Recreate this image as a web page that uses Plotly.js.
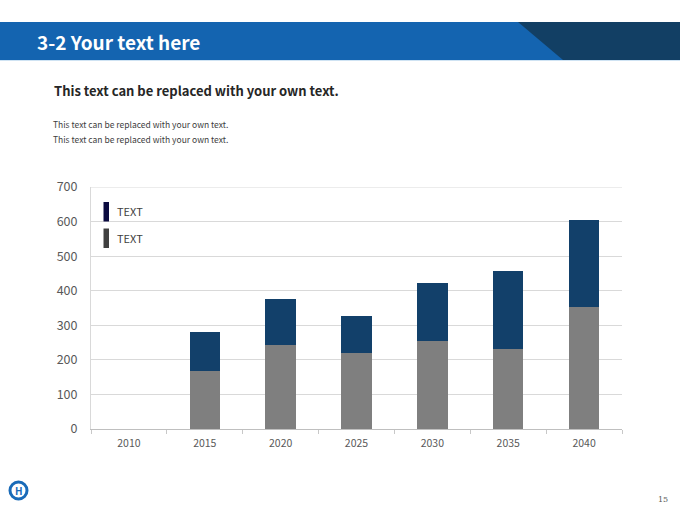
<!DOCTYPE html>
<html>
<head>
<meta charset="utf-8">
<script src="https://cdn.plot.ly/plotly-3.0.1.min.js"></script>
<style>html,body{margin:0;padding:0;background:#fff;}#chart{width:680px;height:510px;}</style>
</head>
<body>
<div id="chart"></div>
<script>
const years = ['2010','2015','2020','2025','2030','2035','2040'];
const lowerValues = [null,168,244,219,254,232,354];
const upperValues = [null,112,131,109,169,224,251];
const legendLabels = ['TEXT','TEXT'];
const yTicks = [0,100,200,300,400,500,600,700];

const W = 680, H = 510;
const px = x => x / W;
const py = y => 1 - y / H;
const FONT = '"Noto Sans CJK KR", "Noto Sans", sans-serif';

const traces = [
  {type:'bar', x:years, y:lowerValues, marker:{color:'#7f7f7f'}, showlegend:false, hoverinfo:'y'},
  {type:'bar', x:years, y:upperValues, marker:{color:'#12406a'}, showlegend:false, hoverinfo:'y'}
];

const shapes = [
  // header band
  {type:'rect', xref:'paper', yref:'paper', x0:0, x1:1, y0:py(60), y1:py(22), fillcolor:'#1464b0', line:{width:0}, layer:'below'},
  {type:'path', xref:'paper', yref:'paper',
   path:`M ${px(518)},${py(22)} L 1,${py(22)} L 1,${py(60)} L ${px(563)},${py(60)} Z`,
   fillcolor:'#123f64', line:{width:0}, layer:'below'},
  {type:'line', xref:'paper', yref:'paper', x0:0, x1:1, y0:py(60.5), y1:py(60.5), line:{color:'#cfe3f3', width:1}},
  // top gridline at the range end
  {type:'line', xref:'x domain', yref:'y', x0:0, x1:1, y0:yTicks[yTicks.length-1], y1:yTicks[yTicks.length-1], line:{color:'#d9d9d9', width:1.2}, layer:'above'},
  // legend markers
  {type:'rect', xref:'paper', yref:'paper', x0:px(103.5), x1:px(109), y0:py(221.5), y1:py(202), fillcolor:'#0b0b40', line:{width:0}},
  {type:'rect', xref:'paper', yref:'paper', x0:px(103.5), x1:px(109), y0:py(248), y1:py(228.5), fillcolor:'#404040', line:{width:0}},
  // logo
  {type:'circle', xref:'paper', yref:'paper', x0:px(10), x1:px(27), y0:py(499), y1:py(482), line:{color:'#1a6bb8', width:3}, fillcolor:'rgba(0,0,0,0)'}
];

const annotations = [
  {xref:'paper', yref:'paper', x:px(35), y:py(41), xanchor:'left', yanchor:'middle', showarrow:false,
   text:'<b>3-2 Your text here</b>', font:{family:FONT, size:19, color:'#ffffff'}},
  {xref:'paper', yref:'paper', x:px(52), y:py(90), xanchor:'left', yanchor:'middle', showarrow:false,
   text:'<b>This text can be replaced with your own text.</b>', font:{family:FONT, size:13, color:'#262626'}},
  {xref:'paper', yref:'paper', x:px(51), y:py(124), xanchor:'left', yanchor:'middle', showarrow:false,
   text:'This text can be replaced with your own text.', font:{family:FONT, size:8.5, color:'#404040'}},
  {xref:'paper', yref:'paper', x:px(51), y:py(139), xanchor:'left', yanchor:'middle', showarrow:false,
   text:'This text can be replaced with your own text.', font:{family:FONT, size:8.5, color:'#404040'}},
  {xref:'paper', yref:'paper', x:px(115), y:py(211), xanchor:'left', yanchor:'middle', showarrow:false,
   text:legendLabels[0], font:{family:FONT, size:11, color:'#404040'}},
  {xref:'paper', yref:'paper', x:px(115), y:py(237.5), xanchor:'left', yanchor:'middle', showarrow:false,
   text:legendLabels[1], font:{family:FONT, size:11, color:'#404040'}},
  {xref:'paper', yref:'paper', x:px(18.5), y:py(490.5), xanchor:'center', yanchor:'middle', showarrow:false,
   text:'<b>H</b>', font:{family:FONT, size:10, color:'#1a6bb8'}},
  {xref:'paper', yref:'paper', x:px(670), y:py(499), xanchor:'right', yanchor:'middle', showarrow:false,
   text:'15', font:{family:'DejaVu Serif, serif', size:8, color:'#595959'}}
];

const layout = {
  width:W, height:H,
  margin:{l:0, r:0, t:0, b:0},
  paper_bgcolor:'#ffffff', plot_bgcolor:'#ffffff',
  barmode:'stack', bargap:0.6,
  showlegend:false,
  xaxis:{
    domain:[px(91), px(622)], type:'category', categoryorder:'array', categoryarray:years,
    showgrid:false, showline:true, linecolor:'#bfbfbf', linewidth:1,
    ticks:'outside', tickson:'boundaries', ticklen:4, tickcolor:'#c8c8c8',
    ticklabelstandoff:4,
    tickfont:{family:FONT, size:10.5, color:'#595959'}, fixedrange:true
  },
  yaxis:{
    domain:[py(429), py(187)], range:[0,700], tickvals:yTicks,
    showgrid:true, gridcolor:'#d9d9d9', gridwidth:1,
    showline:true, linecolor:'#d9d9d9', zeroline:false,
    ticks:'', ticklabelstandoff:10,
    tickfont:{family:FONT, size:12.5, color:'#595959'}, fixedrange:true
  },
  shapes:shapes,
  annotations:annotations
};

Plotly.newPlot('chart', traces, layout, {displayModeBar:false, staticPlot:true});
</script>
</body>
</html>
